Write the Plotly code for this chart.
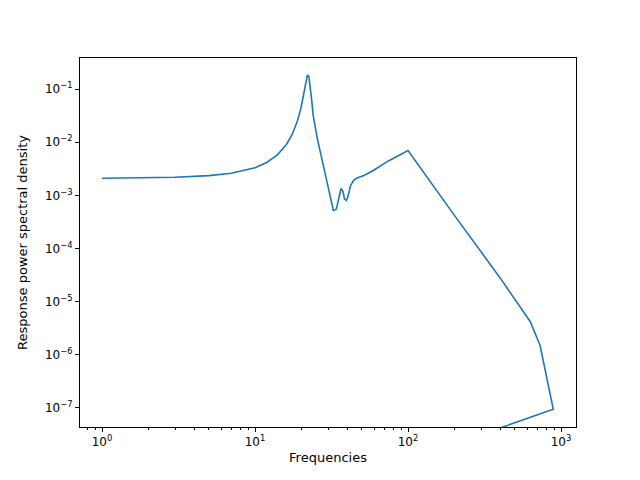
import plotly.graph_objects as go

freqs = [1, 2, 3, 5, 7, 10, 12, 14, 16, 17.5, 19, 20, 20.8, 21.5, 22, 22.5, 23, 23.5, 24, 25.5, 27.5, 30,
         32.5, 34, 35.5, 36.5, 37.5, 38.5, 39.5, 40.5, 42, 44, 46, 48, 52, 60, 75, 100, 200, 400, 630,
         730, 890, 250]
psd = [2.1e-3, 2.15e-3, 2.2e-3, 2.35e-3, 2.6e-3, 3.3e-3, 4.2e-3, 5.8e-3, 9e-3, 1.4e-2, 2.6e-2, 4.5e-2,
       8e-2, 0.14, 0.185, 0.17, 0.11, 0.06, 3.2e-2, 1.2e-2, 4.5e-3, 1.5e-3, 5.2e-4, 5.5e-4, 9e-4,
       1.35e-3, 1.2e-3, 8.5e-4, 8e-4, 9.5e-4, 1.5e-3, 1.9e-3, 2.1e-3, 2.2e-3, 2.4e-3, 3e-3, 4.5e-3,
       7e-3, 4.3e-4, 2.8e-5, 4.2e-6, 1.5e-6, 9.5e-8, 2.6e-8]

x_ticks = [1, 10, 100, 1000]
x_labels = ['10<sup>0</sup>', '10<sup>1</sup>', '10<sup>2</sup>', '10<sup>3</sup>']
x_minor = [m * 10 ** d for d in range(-1, 3) for m in range(2, 10)]
y_ticks = [1e-7, 1e-6, 1e-5, 1e-4, 1e-3, 1e-2, 1e-1]
y_labels = ['10<sup>−%d</sup>' % e for e in range(7, 0, -1)]

font = dict(family='DejaVu Sans', size=12, color='black')
title_font = dict(family='DejaVu Sans', size=13, color='black')
axis_style = dict(showline=True, linecolor='black', linewidth=1, mirror=True, ticks='outside',
                  ticklen=4, tickcolor='black', showgrid=False, zeroline=False, automargin=False,
                  tickfont=font)

fig = go.Figure(go.Scatter(x=freqs, y=psd, mode='lines', line=dict(color='#1f77b4', width=1.6)))

fig.update_xaxes(type='log', range=[-0.144, 3.098], tickvals=x_ticks, ticktext=x_labels,
                 minor=dict(tickvals=x_minor, ticks='outside', ticklen=2, tickcolor='black', showgrid=False),
                 title=dict(text='Frequencies', font=title_font, standoff=4),
                 **axis_style)
fig.update_yaxes(type='log', range=[-7.358, -0.415], tickvals=y_ticks, ticktext=y_labels,
                 title=dict(text='Response power spectral density', font=title_font, standoff=14),
                 **axis_style)
# page body adds an 8px offset, so margins are shifted to keep the matplotlib-like frame
fig.update_layout(width=640, height=480, plot_bgcolor='white', paper_bgcolor='white', showlegend=False,
                  margin=dict(l=72, r=72, t=50, b=61))
fig.write_html('out.html')
